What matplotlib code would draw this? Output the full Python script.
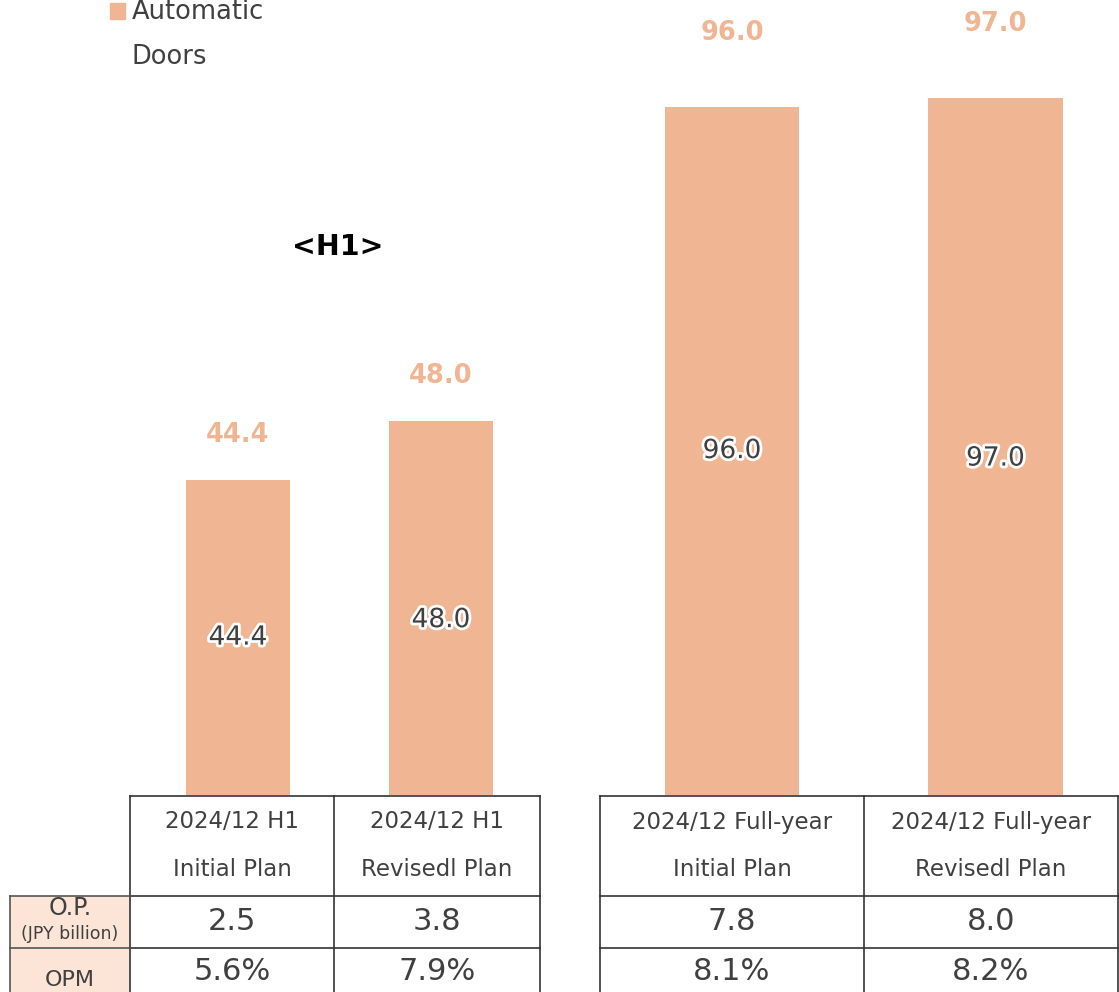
import matplotlib
matplotlib.use("Agg")
import matplotlib.pyplot as plt
import matplotlib.patheffects as pe
from matplotlib.patches import Rectangle

# data
h1_labels = [("2024/12 H1", "Initial Plan"), ("2024/12 H1", "Revisedl Plan")]
fy_labels = [("2024/12 Full-year", "Initial Plan"), ("2024/12 Full-year", "Revisedl Plan")]
h1_sales = [44.4, 48.0]
fy_sales = [96.0, 97.0]
h1_op = ["2.5", "3.8"]
fy_op = ["7.8", "8.0"]
h1_opm = ["5.6%", "7.9%"]
fy_opm = ["8.1%", "8.2%"]

BAR = "#F0B693"
TXT = "#404040"
CELL = "#FCE4D6"
W, H = 1119, 992

fig = plt.figure(figsize=(W / 100, H / 100), dpi=100)


def px_axes(x0, y0, x1, y1):
    return fig.add_axes([x0 / W, 1 - y1 / H, (x1 - x0) / W, (y1 - y0) / H])


def bar_panel(ax, vals, ylim, xlim, width, top_off, in_off):
    xs = range(len(vals))
    ax.bar(xs, vals, width=width, color=BAR, zorder=2)
    ax.set_ylim(*ylim)
    ax.set_xlim(*xlim)
    ax.axis("off")
    for x, v in zip(xs, vals):
        ax.annotate(f"{v:.1f}", (x, v), xytext=(0, top_off), textcoords="offset pixels",
                    ha="center", va="center", color=BAR, fontsize=18.5, fontweight="bold")
        t = ax.annotate(f"{v:.1f}", (x, (v + ylim[0]) / 2), xytext=(0, in_off[x]),
                        textcoords="offset pixels", ha="center", va="center",
                        color=TXT, fontsize=19, zorder=3)
        t.set_path_effects([pe.withStroke(linewidth=4, foreground="white")])


ax1 = px_axes(130, 0, 540, 795)
bar_panel(ax1, h1_sales, (25.2, 73.7), (-0.532, 1.488), 0.512, 45, [0, -12])

ax2 = px_axes(600, 0, 1119, 795)
bar_panel(ax2, fy_sales, (19.6, 107.9), (-0.501, 1.469), 0.512, 74, [0, -12])

# overlay for table, legend and titles (pixel coordinates)
ov = fig.add_axes([0, 0, 1, 1], zorder=5)
ov.set_xlim(0, W)
ov.set_ylim(H, 0)
ov.axis("off")

ov.add_patch(Rectangle((110, 3), 15, 16, color=BAR))
ov.text(132, 12, "Automatic", ha="left", va="center", fontsize=18.5, color=TXT)
ov.text(132, 57, "Doors", ha="left", va="center", fontsize=18.5, color=TXT)
ov.text(338, 247, "<H1>", ha="center", va="center", fontsize=20.5, fontweight="bold", color="black")

LC = "#333333"
lw = 1.2


def table(xcols, heads, ops, opms):
    x0, x1 = xcols[0], xcols[-1]
    for y in (796, 896, 948):
        ov.plot([x0, x1], [y, y], color=LC, lw=lw)
    for x in xcols:
        ov.plot([x, x], [796, 992], color=LC, lw=lw)
    for i in range(len(heads)):
        cx = (xcols[i] + xcols[i + 1]) / 2
        ov.text(cx, 822, heads[i][0], ha="center", va="center", fontsize=16.5, color=TXT)
        ov.text(cx, 870, heads[i][1], ha="center", va="center", fontsize=16.5, color=TXT)
        ov.text(cx, 921, ops[i], ha="center", va="center", fontsize=22, color=TXT)
        ov.text(cx, 971, opms[i], ha="center", va="center", fontsize=22, color=TXT)


table([130, 334, 540], h1_labels, h1_op, h1_opm)
table([600, 864, 1118], fy_labels, fy_op, fy_opm)

# row label column
ov.add_patch(Rectangle((10, 896), 120, 100, facecolor=CELL, edgecolor="none", zorder=0))
for y in (896, 948):
    ov.plot([10, 130], [y, y], color="#555555", lw=lw)
ov.plot([10, 10], [896, 992], color="#555555", lw=lw)
ov.text(70, 908, "O.P.", ha="center", va="center", fontsize=17, color=TXT)
ov.text(70, 934, "(JPY billion)", ha="center", va="center", fontsize=12.5, color=TXT)
ov.text(70, 980, "OPM", ha="center", va="center", fontsize=16, color=TXT)

fig.savefig("out.png", dpi=100)
